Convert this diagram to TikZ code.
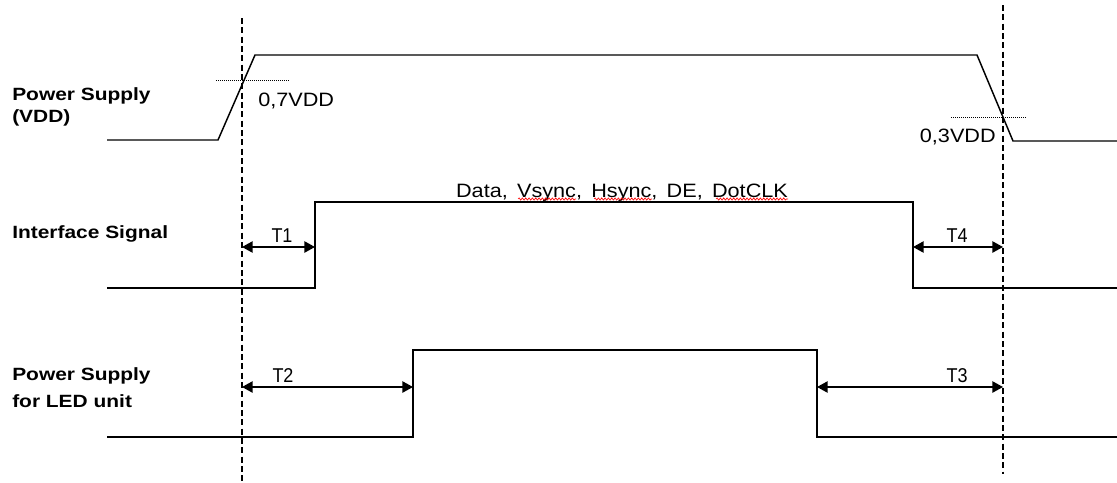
\documentclass[tikz,border=0pt]{standalone}
\usepackage{fontspec}
\setmainfont{Liberation Sans}
\usetikzlibrary{arrows.meta,decorations.pathmorphing}
\begin{document}
\begin{tikzpicture}[x=0.75pt,y=-0.75pt,
  sig/.style={line width=1.1pt, line join=miter},
  guide/.style={line width=0.9pt, dash pattern=on 4.5pt off 2.5pt},
  thr/.style={line width=0.6pt, dash pattern=on 0.75pt off 0.75pt},
  dimarrow/.style={line width=1.1pt, {Triangle[length=8pt,width=8.5pt]}-{Triangle[length=8pt,width=8.5pt]}},
  lbl/.style={font=\fontsize{13.3}{16}\selectfont\bfseries\addfontfeature{FakeStretch=1.18}, anchor=base west, inner sep=0},
  txt/.style={font=\fontsize{14.5}{16}\selectfont\addfontfeature{FakeStretch=1.12}, inner sep=0},
  tlbl/.style={font=\fontsize{15}{16}\selectfont\addfontfeature{FakeStretch=0.9}, inner sep=0, anchor=base},
  spell/.style={red, line width=0.5pt, decorate, decoration={snake, amplitude=0.8pt, segment length=2.5pt}}
]
\useasboundingbox (0,0) rectangle (1117,482);

% guide lines
\coordinate (gLt) at (242,18);
\coordinate (gLb) at (242,482);
\coordinate (gRt) at (1003,5);
\coordinate (gRb) at (1003,474);
\draw[guide] (gLt) -- (gLb);
\draw[guide] (gRt) -- (gRb);

% VDD waveform
\draw[sig] (107,140) -- (218,140) -- (255,55) -- (977,55) -- (1013,141) -- (1117,141);
\coordinate (t7a) at (216,80); \coordinate (t7b) at (290,80);
\coordinate (t3a) at (951,117); \coordinate (t3b) at (1026,117);
\draw[thr] (t7a) -- (t7b);
\draw[thr] (t3a) -- (t3b);
\node[txt, anchor=base west] (v7) at (258,106) {0,7VDD};
\node[txt, anchor=base east] (v3) at (996,142) {0,3VDD};

% Interface signal
\draw[sig] (107,288) -- (315,288) -- (315,202) -- (913,202) -- (913,288) -- (1117,288);
\node[txt, anchor=base] (data) at (622,197) {Data,\, Vsync,\, Hsync,\, DE,\, DotCLK};
\draw[spell] (518,199) -- (576,199);
\draw[spell] (594,199) -- (652,199);
\draw[spell] (716,199) -- (788,199);

% LED supply
\draw[sig] (107,437) -- (413,437) -- (413,350) -- (817,350) -- (817,437) -- (1117,437);

% dimension arrows
\coordinate (a1l) at (242,247); \coordinate (a1r) at (315,247);
\coordinate (a4l) at (913,247); \coordinate (a4r) at (1003,247);
\coordinate (a2l) at (242,387); \coordinate (a2r) at (413,387);
\coordinate (a3l) at (817,387); \coordinate (a3r) at (1003,387);
\draw[dimarrow] (a1l) -- (a1r);
\draw[dimarrow] (a4l) -- (a4r);
\draw[dimarrow] (a2l) -- (a2r);
\draw[dimarrow] (a3l) -- (a3r);
\node[tlbl] (T1) at (282,242) {T1};
\node[tlbl] (T4) at (957,242) {T4};
\node[tlbl] (T2) at (283,382) {T2};
\node[tlbl] (T3) at (957,382) {T3};

% left labels
\node[lbl] (l1) at (12,100) {Power Supply};
\node[lbl] (l2) at (12,122) {(VDD)};
\node[lbl] (l3) at (12,238) {Interface Signal};
\node[lbl] (l4) at (12,380) {Power Supply};
\node[lbl] (l5) at (12,407) {for LED unit};
\end{tikzpicture}
\end{document}
